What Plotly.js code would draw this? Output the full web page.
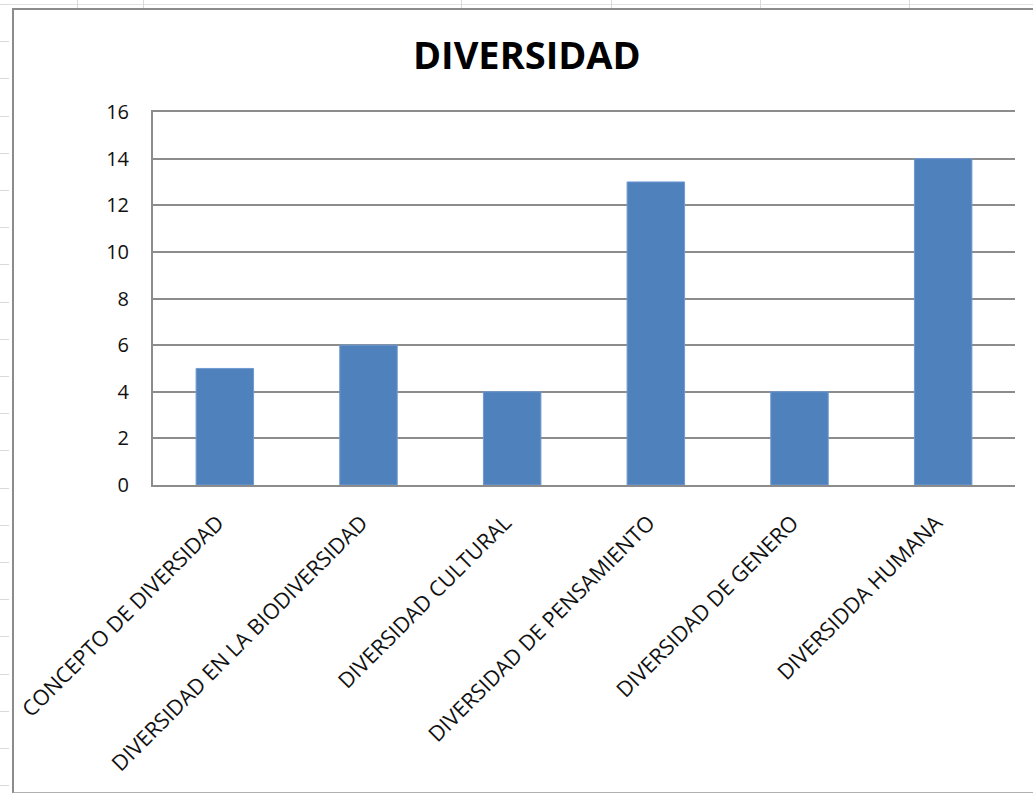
<!DOCTYPE html>
<html>
<head>
<meta charset="utf-8">
<script src="https://cdn.plot.ly/plotly-3.0.1.min.js"></script>
<style>
  html, body { margin: 0; padding: 0; background: #ffffff; }
  #wrap { position: relative; width: 1033px; height: 793px; overflow: hidden; }
  .vline { position: absolute; top: 0; width: 1px; height: 8px; background: #d9d9d9; }
  .hline { position: absolute; left: 0; width: 9px; height: 1px; background: #d9d9d9; }
  #toprow { position: absolute; left: 0; top: 4px; width: 1033px; height: 1px; background: #e3e3e3; }
  #frame { position: absolute; left: 12px; top: 8px; width: 1040px; height: 782px;
           border-left: 2px solid #8c8c8c; border-top: 2px solid #8c8c8c; border-bottom: 2px solid #b0b0b0;
           background: #ffffff; }
  #chart { position: absolute; left: 0; top: 0; width: 1033px; height: 793px; }
</style>
</head>
<body>
<div id="wrap">
  <div id="toprow"></div>
  <div class="vline" style="left:77px"></div>
  <div class="vline" style="left:143px"></div>
  <div class="vline" style="left:461px"></div>
  <div class="vline" style="left:611px"></div>
  <div class="vline" style="left:760px"></div>
  <div class="vline" style="left:909px"></div>
  <div id="rowticks"></div>
  <div id="frame"></div>
  <div id="chart"></div>
</div>
<script>
// Data
const categories = [
  "CONCEPTO DE DIVERSIDAD",
  "DIVERSIDAD EN LA BIODIVERSIDAD",
  "DIVERSIDAD CULTURAL",
  "DIVERSIDAD DE PENSAMIENTO",
  "DIVERSIDAD DE GENERO",
  "DIVERSIDDA HUMANA"
];
const values = [5, 6, 4, 13, 4, 14];
const yTicks = [0, 2, 4, 6, 8, 10, 12, 14, 16];
const chartTitle = "DIVERSIDAD";

// spreadsheet row marks on the left strip (decoration)
const rt = document.getElementById('rowticks');
for (let y = 4; y < 793; y += 37.2) {
  const d = document.createElement('div');
  d.className = 'hline';
  d.style.top = Math.round(y) + 'px';
  rt.appendChild(d);
}

const fontFam = "'Open Sans', 'Liberation Sans', Arial, sans-serif";
const catIndex = categories.map((_, i) => i);
const labelShift = 0.05; // shift of the label axis (in category units) so label ends sit at bar centres

const trace = {
  type: 'bar',
  x: catIndex,
  y: values,
  text: categories,
  textposition: 'none',
  marker: { color: '#4F81BD', line: { color: '#6f9ad0', width: 1 } },
  hovertemplate: '%{text}: %{y}<extra></extra>'
};

const layout = {
  width: 1033,
  height: 793,
  paper_bgcolor: 'rgba(0,0,0,0)',
  plot_bgcolor: 'rgba(0,0,0,0)',
  margin: { l: 153, r: 18, t: 112, b: 308 },
  bargap: 0.6,
  showlegend: false,
  title: {
    text: '<b>' + chartTitle + '</b>',
    font: { family: fontFam, size: 38, color: '#000000' },
    x: 0.51, xanchor: 'center',
    y: 0.93, yanchor: 'middle'
  },
  xaxis: {
    range: [-0.5, categories.length - 0.5],
    showticklabels: false,
    showgrid: false,
    showline: true,
    mirror: true,
    linecolor: '#8c8c8c',
    linewidth: 1.8,
    ticks: '',
    zeroline: false,
    fixedrange: true
  },
  xaxis2: {
    overlaying: 'x',
    anchor: 'y',
    side: 'bottom',
    range: [-0.5 + labelShift, categories.length - 0.5 + labelShift],
    tickvals: catIndex,
    ticktext: categories,
    tickangle: -45,
    tickfont: { family: fontFam, size: 21.5, color: '#111111' },
    showgrid: false,
    showline: false,
    ticks: '',
    ticklabelstandoff: 20,
    zeroline: false,
    fixedrange: true
  },
  yaxis: {
    range: [0, 16],
    tickvals: yTicks,
    ticktext: yTicks.map(String),
    tickfont: { family: fontFam, size: 20, color: '#111111' },
    showgrid: true,
    gridcolor: '#8c8c8c',
    gridwidth: 1.5,
    showline: true,
    linecolor: '#8c8c8c',
    linewidth: 2,
    ticks: '',
    ticklabelstandoff: 18,
    zeroline: false,
    fixedrange: true
  }
};

// invisible helper trace so the label axis is rendered
const labelTrace = {
  type: 'scatter', mode: 'markers', x: catIndex, y: values,
  xaxis: 'x2', yaxis: 'y', marker: { opacity: 0 }, hoverinfo: 'skip', showlegend: false
};

Plotly.newPlot('chart', [trace, labelTrace], layout, { displayModeBar: false, responsive: false });
</script>
</body>
</html>
